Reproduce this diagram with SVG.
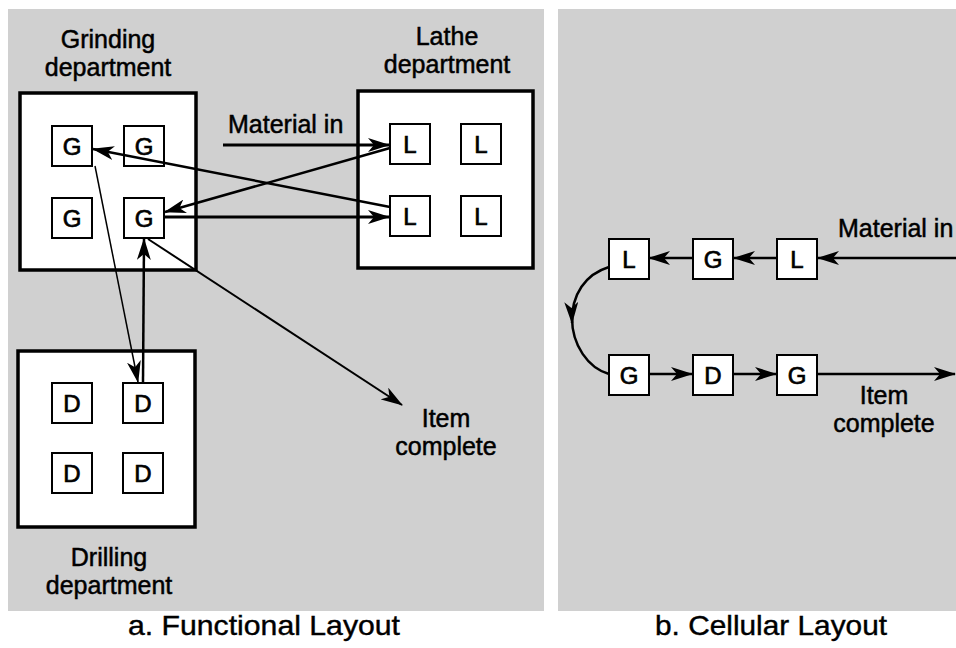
<svg xmlns="http://www.w3.org/2000/svg" width="956" height="648" viewBox="0 0 956 648">
<style>
.bg{fill:#d0d0d0;}
.dept{fill:#fff;stroke:#000;stroke-width:3.5;}
.m{fill:#fff;stroke:#000;stroke-width:2;}
.t{font-family:"Liberation Sans",Arial,sans-serif;font-size:25px;fill:#000;text-anchor:middle;stroke:#000;stroke-width:0.5;}
.ml{font-family:"Liberation Sans",Arial,sans-serif;font-size:24px;fill:#000;text-anchor:middle;stroke:#000;stroke-width:0.7;}
.cap{font-family:"Liberation Sans",Arial,sans-serif;font-size:28px;fill:#000;stroke:#000;stroke-width:0.4;}
.c{fill:none;stroke:#000;}
.w3{stroke-width:3;}
.w25{stroke-width:2.5;}
.w2{stroke-width:2;}
.w15{stroke-width:1.5;}
.a{marker-end:url(#ah);}
</style>
<defs>
<marker id="ah" markerUnits="userSpaceOnUse" markerWidth="22" markerHeight="14" viewBox="0 0 22 14" refX="21" refY="7" orient="auto">
<path d="M0,0 L22,7 L0,14 L6,7 Z" fill="#000"/>
</marker>
</defs>
<rect class="bg" x="8" y="9" width="536" height="602"/>
<rect class="bg" x="558" y="9" width="398" height="602"/>

<g id="grinding">
<rect class="dept" x="20" y="93" width="176" height="177"/>
<text class="t" x="108" y="48">Grinding</text>
<text class="t" x="108" y="76">department</text>
<g id="g1"><rect class="m" x="52" y="126" width="40" height="40"/><text class="ml" x="72" y="155">G</text></g>
<g id="g2"><rect class="m" x="124" y="126" width="40" height="40"/><text class="ml" x="144" y="155">G</text></g>
<g id="g3"><rect class="m" x="52" y="198" width="40" height="40"/><text class="ml" x="72" y="227">G</text></g>
<g id="g4"><rect class="m" x="124" y="198" width="40" height="40"/><text class="ml" x="144" y="227">G</text></g>
</g>

<g id="lathe">
<rect class="dept" x="358" y="91" width="175" height="177"/>
<text class="t" x="447" y="45">Lathe</text>
<text class="t" x="447" y="73">department</text>
<g id="l1"><rect class="m" x="390" y="124" width="40" height="40"/><text class="ml" x="410" y="153">L</text></g>
<g id="l2"><rect class="m" x="461" y="124" width="40" height="40"/><text class="ml" x="481" y="153">L</text></g>
<g id="l3"><rect class="m" x="390" y="196" width="40" height="40"/><text class="ml" x="410" y="225">L</text></g>
<g id="l4"><rect class="m" x="461" y="196" width="40" height="40"/><text class="ml" x="481" y="225">L</text></g>
</g>

<g id="drilling">
<rect class="dept" x="18" y="351" width="177" height="176"/>
<text class="t" x="109" y="566">Drilling</text>
<text class="t" x="109" y="594">department</text>
<g id="d1"><rect class="m" x="52" y="383" width="40" height="40"/><text class="ml" x="72" y="412">D</text></g>
<g id="d2"><rect class="m" x="123" y="383" width="40" height="40"/><text class="ml" x="143" y="412">D</text></g>
<g id="d3"><rect class="m" x="52" y="453" width="40" height="40"/><text class="ml" x="72" y="482">D</text></g>
<g id="d4"><rect class="m" x="123" y="453" width="40" height="40"/><text class="ml" x="143" y="482">D</text></g>
</g>

<g id="labels-a">
<text class="t" x="228" y="133" style="text-anchor:start">Material in</text>
<text class="t" x="446" y="427">Item</text>
<text class="t" x="446" y="455">complete</text>
</g>

<g id="cell">
<g id="cl1"><rect class="m" x="609" y="239" width="40" height="40"/><text class="ml" x="629" y="268">L</text></g>
<g id="cg1"><rect class="m" x="693" y="239" width="40" height="40"/><text class="ml" x="713" y="268">G</text></g>
<g id="cl2"><rect class="m" x="777" y="239" width="40" height="40"/><text class="ml" x="797" y="268">L</text></g>
<g id="cg2"><rect class="m" x="609" y="355" width="40" height="40"/><text class="ml" x="629" y="384">G</text></g>
<g id="cd1"><rect class="m" x="693" y="355" width="40" height="40"/><text class="ml" x="713" y="384">D</text></g>
<g id="cg3"><rect class="m" x="777" y="355" width="40" height="40"/><text class="ml" x="797" y="384">G</text></g>
<text class="t" x="838" y="237" style="text-anchor:start">Material in</text>
<text class="t" x="884" y="404">Item</text>
<text class="t" x="884" y="432">complete</text>
</g>

<g id="connectors">
<line class="c w3 a" x1="223" y1="145" x2="389" y2="145"/>
<line class="c w3 a" x1="164" y1="217" x2="389" y2="217"/>
<line class="c w25 a" x1="390" y1="148" x2="165" y2="212"/>
<line class="c w25 a" x1="390" y1="207" x2="93" y2="149"/>
<line class="c w15 a" x1="95" y1="166" x2="138" y2="382"/>
<line class="c w25 a" x1="143" y1="383" x2="144" y2="239"/>
<line class="c w2 a" x1="148" y1="239" x2="402" y2="405"/>
<line class="c w25 a" x1="956" y1="258" x2="818" y2="258"/>
<line class="c w25 a" x1="777" y1="258" x2="734" y2="258"/>
<line class="c w25 a" x1="693" y1="258" x2="649" y2="258"/>
<path class="c w25 a" d="M609,267 C586,274 571,294 572,323"/>
<path class="c w25" d="M572,318 C572,345 588,368 609,374"/>
<line class="c w25 a" x1="649" y1="374" x2="692" y2="374"/>
<line class="c w25 a" x1="733" y1="374" x2="776" y2="374"/>
<line class="c w25 a" x1="817" y1="374" x2="955" y2="374"/>
</g>

<g id="captions">
<text class="cap" x="128" y="635" textLength="272" lengthAdjust="spacingAndGlyphs">a.  Functional Layout</text>
<text class="cap" x="655" y="635" textLength="232" lengthAdjust="spacingAndGlyphs">b.  Cellular Layout</text>
</g>
</svg>
